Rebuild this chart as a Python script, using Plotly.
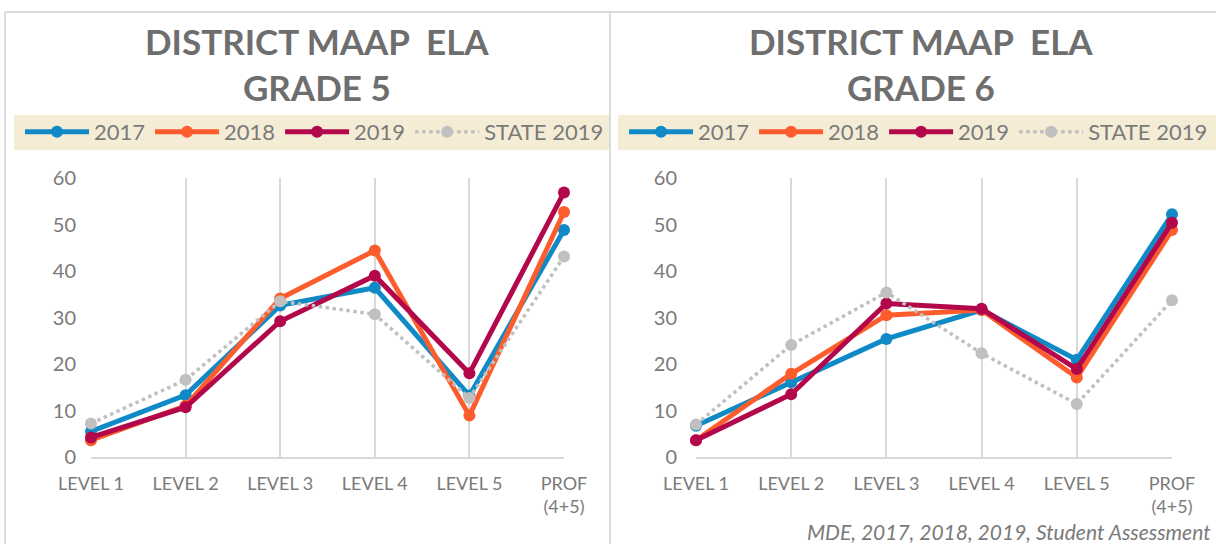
import plotly.graph_objects as go

W, H = 1216, 544

categories = ["LEVEL 1", "LEVEL 2", "LEVEL 3", "LEVEL 4", "LEVEL 5", "PROF<br>(4+5)"]
series_names = ["2017", "2018", "2019", "STATE 2019"]

# grade 5 (left panel)
g5_2017 = [5.5, 13.3, 32.6, 36.4, 13.2, 48.8]
g5_2018 = [3.6, 11.0, 34.1, 44.4, 8.9, 52.7]
g5_2019 = [4.2, 10.7, 29.2, 39.0, 18.0, 56.9]
g5_state = [7.2, 16.6, 33.5, 30.7, 12.7, 43.1]

# grade 6 (right panel)
g6_2017 = [6.7, 16.1, 25.4, 31.6, 20.9, 52.2]
g6_2018 = [3.6, 17.9, 30.5, 31.6, 17.1, 48.8]
g6_2019 = [3.6, 13.5, 33.0, 31.9, 18.9, 50.4]
g6_state = [7.0, 24.1, 35.4, 22.3, 11.4, 33.7]

colors = ["#0f8ac6", "#fd5c2c", "#b3074b", "#c0c0c0"]
GRAY_TXT = "#7a7a7a"
FONT = "Lato"


def px_x(p):
    return p / W


def px_y(p):
    return (H - p) / H


fig = go.Figure()

panels = [
    ([g5_2017, g5_2018, g5_2019, g5_state], "x", "y", "legend"),
    ([g6_2017, g6_2018, g6_2019, g6_state], "x2", "y2", "legend2"),
]
for values, xa, ya, leg in panels:
    for name, vals, col in zip(series_names, values, colors):
        state = name.startswith("STATE")
        fig.add_trace(go.Scatter(
            x=categories, y=vals, name=name, mode="lines+markers",
            xaxis=xa, yaxis=ya, legend=leg, cliponaxis=False,
            line=dict(color=col, width=3.5 if state else 5,
                      dash="dot" if state else "solid"),
            marker=dict(color=col, size=12),
        ))

axis_common = dict(
    type="category", range=[0, 5], showgrid=True, gridcolor="#d9d9d9",
    gridwidth=2, showline=True, linecolor="#d9d9d9", linewidth=2,
    ticks="", tickfont=dict(family=FONT, size=18, color=GRAY_TXT),
    ticklabelstandoff=9, zeroline=False, fixedrange=True, automargin=False,
)
yaxis_common = dict(
    range=[0, 60], dtick=10, showgrid=False, zeroline=False, showline=False,
    tickfont=dict(family=FONT, size=20, color=GRAY_TXT), ticks="",
    domain=[px_y(457), px_y(178)], fixedrange=True, automargin=False,
)
legend_common = dict(
    orientation="h", yanchor="middle", xanchor="left",
    bgcolor="rgba(0,0,0,0)", itemwidth=64, tracegroupgap=0,
    font=dict(family=FONT, size=22, color=GRAY_TXT), itemclick=False,
)

fig.update_layout(
    width=W, height=H, margin=dict(l=0, r=0, t=0, b=0, autoexpand=False),
    paper_bgcolor="white", plot_bgcolor="white",
    xaxis=dict(axis_common, domain=[px_x(91), px_x(564)], anchor="y"),
    xaxis2=dict(axis_common, domain=[px_x(696), px_x(1172)], anchor="y2"),
    yaxis=dict(yaxis_common, anchor="x", ticklabelstandoff=14),
    yaxis2=dict(yaxis_common, anchor="x2", ticklabelstandoff=18),
    legend=dict(legend_common, x=px_x(20), y=px_y(132)),
    legend2=dict(legend_common, x=px_x(624), y=px_y(132)),
    showlegend=True,
)

# legend bands and panel frames
for x0, x1 in [(14, 609), (618, 1216)]:
    fig.add_shape(type="rect", xref="paper", yref="paper",
                  x0=px_x(x0), x1=px_x(x1), y0=px_y(150), y1=px_y(115),
                  fillcolor="#f5ecd6", line=dict(width=0), layer="below")
frame = dict(color="#d0d0d0", width=1.5)
fig.add_shape(type="line", xref="paper", yref="paper", x0=px_x(5), x1=1,
              y0=px_y(12), y1=px_y(12), line=frame)
fig.add_shape(type="line", xref="paper", yref="paper", x0=px_x(5), x1=px_x(5),
              y0=0, y1=px_y(12), line=frame)
fig.add_shape(type="line", xref="paper", yref="paper", x0=px_x(610), x1=px_x(610),
              y0=0, y1=px_y(12), line=frame)

# titles
for cx, grade in [(317, "GRADE 5"), (921, "GRADE 6")]:
    fig.add_annotation(
        x=px_x(cx), y=px_y(64), xref="paper", yref="paper", showarrow=False,
        xanchor="center", yanchor="middle",
        text="<b>DISTRICT MAAP\u00a0\u00a0ELA<br>" + grade + "</b>",
        font=dict(family=FONT, size=35, color="#6e6e6e"),
    )

fig.add_annotation(
    x=px_x(1213), y=px_y(531), xref="paper", yref="paper", showarrow=False,
    xanchor="right", yanchor="middle",
    text="<i>MDE, 2017, 2018, 2019, Student Assessment</i>",
    font=dict(family=FONT, size=21, color=GRAY_TXT),
)

# page body has a default 8px margin; drop it so the figure fills the window
fig.write_html("out.html", config={"displayModeBar": False},
               post_script="document.body.style.margin = '0';")
